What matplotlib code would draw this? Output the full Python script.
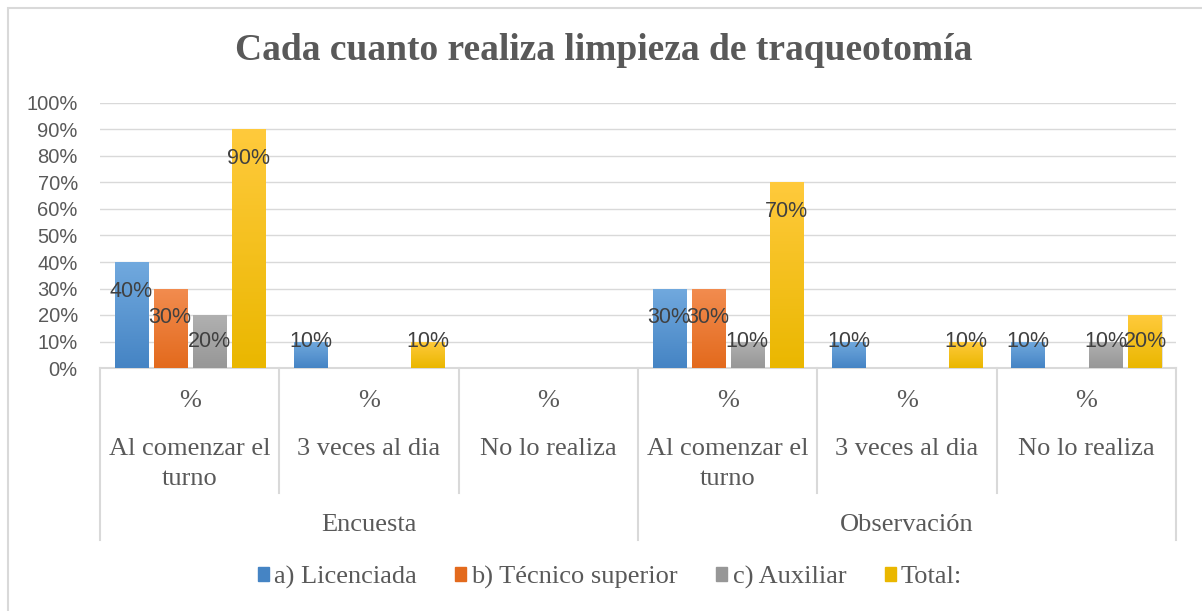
import matplotlib
matplotlib.use('Agg')

import matplotlib.pyplot as plt
import numpy as np
from matplotlib.patches import Patch, Rectangle
from matplotlib.colors import LinearSegmentedColormap

# datos
grupos = ['Encuesta', 'Observación']
categorias = ['Al comenzar el\nturno', '3 veces al dia', 'No lo realiza']
series = ['a) Licenciada', 'b) Técnico superior', 'c) Auxiliar', 'Total:']
licenciada = [40, 10, 0, 30, 10, 10]
tecnico = [30, 0, 0, 30, 0, 0]
auxiliar = [20, 0, 0, 10, 0, 10]
total = [90, 10, 0, 70, 10, 20]
valores = [licenciada, tecnico, auxiliar, total]

# colores (arriba, abajo) para imitar el degradado de Excel
colores = [('#71a9de', '#4584c4'), ('#f28c4f', '#e36a1d'),
           ('#b0b0b0', '#979797'), ('#ffca3c', '#eab700')]
gris_txt = '#595959'
gris_lin = '#d9d9d9'

W, H = 1202, 611
fig = plt.figure(figsize=(W / 100, H / 100), dpi=100)
ax = fig.add_axes([100 / W, (H - 368) / H, 1076 / W, 265 / H])

n = len(categorias) * len(grupos)
x = np.arange(n) + 0.5
paso = 39 / 179
ancho = 33 / 179

for k, (vals, (c_top, c_bot)) in enumerate(zip(valores, colores)):
    pos = x + (k - 1.5) * paso
    cmap = LinearSegmentedColormap.from_list('g%d' % k, [c_bot, c_top])
    for xi, v in zip(pos, vals):
        if v == 0:
            continue
        # sombra suave
        ax.add_patch(Rectangle((xi - ancho / 2 + 0.006, -0.6), ancho, v,
                               color='#000000', alpha=0.12, lw=0, zorder=2))
        barra = ax.bar(xi, v, width=ancho, color=c_bot, zorder=3)[0]
        grad = ax.imshow(np.linspace(0, 1, 100).reshape(-1, 1), cmap=cmap,
                         origin='lower', aspect='auto', zorder=3.5,
                         extent=(xi - ancho / 2, xi + ancho / 2, 0, v))
        grad.set_clip_path(barra)
        y_lab = max(v - 11, 10)
        ax.text(xi, y_lab, f'{v}%', ha='center', va='center', fontsize=15.5,
                family='Liberation Sans', color='#404040', zorder=5)

ax.set_xlim(0, n)
ax.set_ylim(0, 100)
ax.set_yticks(np.arange(0, 101, 10))
ax.set_yticklabels([f'{t}%' for t in range(0, 101, 10)],
                   fontsize=14.5, family='Liberation Sans', color=gris_txt)
ax.tick_params(axis='y', length=0, pad=16)
ax.set_xticks([])
ax.yaxis.grid(True, color=gris_lin, lw=1)
ax.set_axisbelow(True)
for s in ax.spines.values():
    s.set_visible(False)


def ya(py):
    # pixel (desde arriba) -> fracción del eje
    return (368 - py) / 265


tr = ax.get_xaxis_transform()
ax.plot([0, n], [0, 0], transform=tr, color=gris_lin, lw=1.5, clip_on=False)
for i in range(n + 1):
    fondo = 540 if i % len(categorias) == 0 else 493
    ax.plot([i, i], [0, ya(fondo)], transform=tr, color=gris_lin, lw=1.5,
            clip_on=False)

serif = 'Liberation Serif'
for i in range(n):
    ax.text(i + 0.5, ya(407), '%', transform=tr, ha='center', va='baseline',
            fontsize=19, family=serif, color=gris_txt)
    lineas = categorias[i % len(categorias)].split('\n')
    for j, linea in enumerate(lineas):
        ax.text(i + 0.5, ya(455 + 30 * j), linea, transform=tr,
                ha='center', va='baseline', fontsize=19, family=serif,
                color=gris_txt)
for g, nombre in enumerate(grupos):
    ax.text(g * len(categorias) + len(categorias) / 2, ya(531), nombre,
            transform=tr, ha='center', va='baseline', fontsize=19,
            family=serif, color=gris_txt)

fig.text(604 / W, 1 - 51 / H, 'Cada cuanto realiza limpieza de traqueotomía',
         ha='center', va='center', fontsize=27, fontweight='bold',
         family=serif, color=gris_txt)

handles = [Patch(color=c[1]) for c in colores]
fig.legend(handles, series, loc='center', bbox_to_anchor=(610 / W, 1 - 577 / H),
           ncol=4, frameon=False, handlelength=0.42, handleheight=0.42,
           handletextpad=0.2, columnspacing=1.45,
           prop={'family': serif, 'size': 19}, labelcolor=gris_txt)

# borde del área del gráfico
fig.patches.append(Rectangle((7.5 / W, -0.1), 1.2, (H - 7.5) / H + 0.1,
                             transform=fig.transFigure, fill=False,
                             edgecolor=gris_lin, lw=1.5))

fig.savefig('out.png', dpi=100)
